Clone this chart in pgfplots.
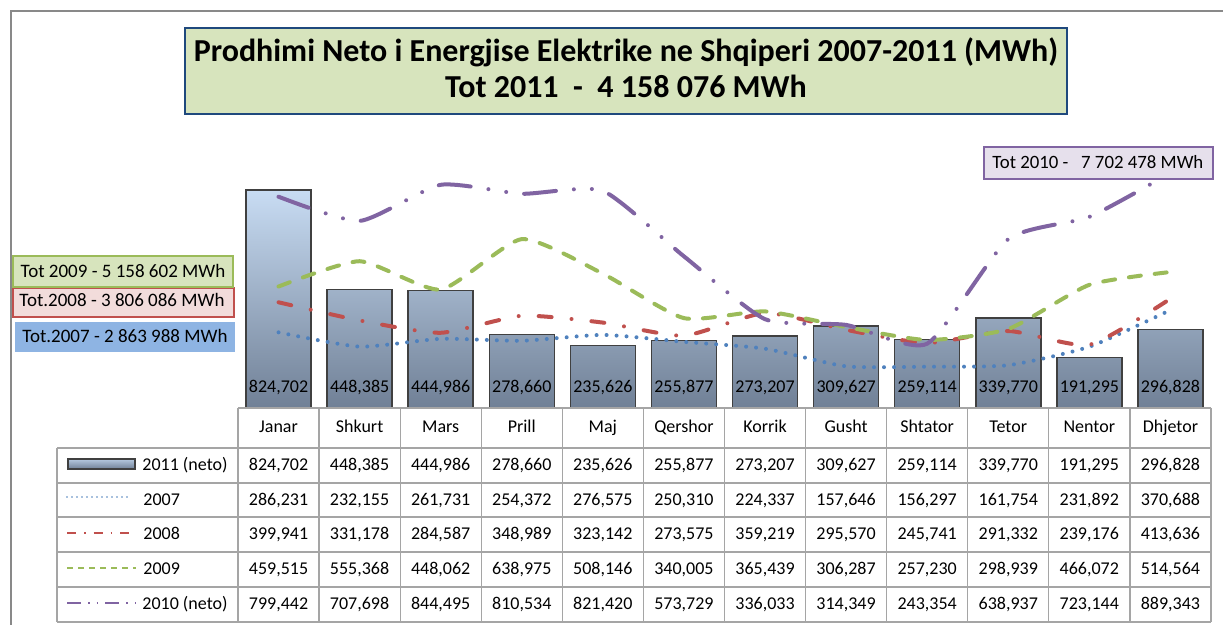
\documentclass[border=0pt]{standalone}
\usepackage{pgfplots}
\pgfplotsset{compat=1.18}
\usepackage{fontspec}
\setmainfont{Carlito}
\definecolor{c07}{HTML}{4F81BD}
\definecolor{c08}{HTML}{C0504D}
\definecolor{c09}{HTML}{9BBB59}
\definecolor{c10}{HTML}{8064A2}
\definecolor{bartop}{RGB}{200,220,243}
\definecolor{barbot}{RGB}{112,128,150}
\definecolor{gridc}{RGB}{165,165,165}
\definecolor{framec}{RGB}{137,137,137}
\definecolor{titlefill}{RGB}{215,228,189}
\definecolor{titledraw}{HTML}{1F497D}
\definecolor{f09}{RGB}{215,228,189}
\definecolor{f08}{RGB}{242,220,219}
\definecolor{f07}{RGB}{142,180,227}
\definecolor{f10}{RGB}{230,224,236}
\newcommand{\tfont}{\fontsize{9}{10}\selectfont}
\begin{document}
\begin{tikzpicture}
\begin{axis}[at={(119pt,-204pt)}, anchor=south west, scale only axis,
  width=486.5pt, height=132.15pt, xmin=-0.5, xmax=11.5, ymin=0, ymax=1000000,
  hide axis, clip=false]
\addplot[ybar, bar width=32.5pt, draw=black!75, line width=0.75pt, top color=bartop, bottom color=barbot]
 coordinates {(0,824702) (1,448385) (2,444986) (3,278660) (4,235626) (5,255877) (6,273207) (7,309627) (8,259114) (9,339770) (10,191295) (11,296828)};
\addplot[c07, smooth, tension=0.35, line width=2pt, line cap=round, dash pattern=on 0pt off 5pt]
 coordinates {(0,286231) (1,232155) (2,261731) (3,254372) (4,276575) (5,250310) (6,224337) (7,157646) (8,156297) (9,161754) (10,231892) (11,370688)};
\addplot[c08, smooth, tension=0.35, line width=2pt, line cap=round, dash pattern=on 6.5pt off 10pt on 0pt off 10pt]
 coordinates {(0,399941) (1,331178) (2,284587) (3,348989) (4,323142) (5,273575) (6,359219) (7,295570) (8,245741) (9,291332) (10,239176) (11,413636)};
\addplot[c09, smooth, tension=0.35, line width=2pt, line cap=round, dash pattern=on 6pt off 7pt]
 coordinates {(0,459515) (1,555368) (2,448062) (3,638975) (4,508146) (5,340005) (6,365439) (7,306287) (8,257230) (9,298939) (10,466072) (11,514564)};
\addplot[c10, smooth, tension=0.35, line width=2pt, line cap=round, dash pattern=on 16pt off 9pt on 0pt off 9pt on 0pt off 9pt]
 coordinates {(0,799442) (1,707698) (2,844495) (3,810534) (4,821420) (5,573729) (6,336033) (7,314349) (8,243354) (9,638937) (10,723144) (11,889343)};
\addplot[draw=none, nodes near coords, point meta=explicit symbolic,
  nodes near coords style={anchor=base, yshift=7.5pt, font=\tfont, text=black}]
 table[meta=lab] {
x y lab
0 0 824,702
1 0 448,385
2 0 444,986
3 0 278,660
4 0 235,626
5 0 255,877
6 0 273,207
7 0 309,627
8 0 259,114
9 0 339,770
10 0 191,295
11 0 296,828
};
\end{axis}
\begin{scope}[x=0.5pt,y=-0.5pt]
% outer frame
\draw[framec, line width=1pt] (11,640) -- (11,11) -- (1240,11);
% title
\draw[titledraw, line width=1.1pt, fill=titlefill] (185,28) rectangle (1067,114);
\node[anchor=base, inner sep=0pt, font=\fontsize{16}{18}\selectfont\bfseries] at (626,62) {Prodhimi Neto i Energjise Elektrike ne Shqiperi 2007-2011 (MWh)};
\node[anchor=base, inner sep=0pt, font=\fontsize{16}{18}\selectfont\bfseries] at (626,98) {Tot 2011\ \ -\ \ 4 158 076 MWh};
% total boxes
\draw[c10, line width=1pt, fill=f10] (984,147) rectangle (1213,179);
\node[anchor=base west, inner sep=0pt, font=\fontsize{9.4}{10}\selectfont] at (992,169) {Tot 2010 -\ \ \ 7 702 478 MWh};
\draw[c08, line width=1pt, fill=f08] (13,288) rectangle (234,317);
\draw[c09, line width=1pt, fill=f09] (13,256) rectangle (233,287);
\fill[f07] (15,322) rectangle (235,352);
\node[anchor=base, inner sep=0pt, font=\fontsize{9.5}{10}\selectfont] at (123,278) {Tot 2009 - 5 158 602 MWh};
\node[anchor=base, inner sep=0pt, font=\fontsize{9.5}{10}\selectfont] at (122,307) {Tot.2008 - 3 806 086 MWh};
\node[anchor=base, inner sep=0pt, font=\fontsize{9.5}{10}\selectfont] at (125,343) {Tot.2007 - 2 863 988 MWh};
% data table grid
\begin{scope}[gridc, line width=0.6pt]
\draw (238,408) -- (1211,408);
\foreach \yy in {448,483,517,552,587,622} \draw (57,\yy) -- (1211,\yy);
\draw (57,448) -- (57,622);
\foreach \k in {0,...,12} \draw ({238+81.083*\k},408) -- ({238+81.083*\k},622);
\end{scope}
% header
\foreach \m [count=\i from 0] in {Janar,Shkurt,Mars,Prill,Maj,Qershor,Korrik,Gusht,Shtator,Tetor,Nentor,Dhjetor}
  \node[anchor=base, inner sep=0pt, font=\tfont] at ({278.5+81.083*\i},433) {\m};
% rows
\foreach \v [count=\i from 0] in {824{,}702,448{,}385,444{,}986,278{,}660,235{,}626,255{,}877,273{,}207,309{,}627,259{,}114,339{,}770,191{,}295,296{,}828}
  \node[anchor=base, inner sep=0pt, font=\tfont] at ({278.5+81.083*\i},471) {\v};
\foreach \v [count=\i from 0] in {286{,}231,232{,}155,261{,}731,254{,}372,276{,}575,250{,}310,224{,}337,157{,}646,156{,}297,161{,}754,231{,}892,370{,}688}
  \node[anchor=base, inner sep=0pt, font=\tfont] at ({278.5+81.083*\i},506) {\v};
\foreach \v [count=\i from 0] in {399{,}941,331{,}178,284{,}587,348{,}989,323{,}142,273{,}575,359{,}219,295{,}570,245{,}741,291{,}332,239{,}176,413{,}636}
  \node[anchor=base, inner sep=0pt, font=\tfont] at ({278.5+81.083*\i},540) {\v};
\foreach \v [count=\i from 0] in {459{,}515,555{,}368,448{,}062,638{,}975,508{,}146,340{,}005,365{,}439,306{,}287,257{,}230,298{,}939,466{,}072,514{,}564}
  \node[anchor=base, inner sep=0pt, font=\tfont] at ({278.5+81.083*\i},575) {\v};
\foreach \v [count=\i from 0] in {799{,}442,707{,}698,844{,}495,810{,}534,821{,}420,573{,}729,336{,}033,314{,}349,243{,}354,638{,}937,723{,}144,889{,}343}
  \node[anchor=base, inner sep=0pt, font=\tfont] at ({278.5+81.083*\i},610) {\v};
% legend keys
\draw[black!75, line width=0.6pt, top color=bartop!80!barbot, bottom color=barbot] (68,459) rectangle (135,469);
\draw[c07, line width=0.9pt, line cap=round, dash pattern=on 0pt off 2.5pt] (67,497) -- (131,497);
\draw[c08, line width=1.2pt, dash pattern=on 4.5pt off 4pt on 0.8pt off 4pt] (67,533) -- (134,533);
\draw[c09, line width=1.2pt, dash pattern=on 3.2pt off 2.3pt] (67,568) -- (136,568);
\draw[c10, line width=1.2pt, dash pattern=on 7pt off 3.5pt on 0.8pt off 3.5pt on 0.8pt off 3.5pt] (67,603) -- (137,603);
\node[anchor=base west, inner sep=0pt, font=\tfont] at (142,471) {2011 (neto)};
\node[anchor=base west, inner sep=0pt, font=\tfont] at (143,506) {2007};
\node[anchor=base west, inner sep=0pt, font=\tfont] at (143,540) {2008};
\node[anchor=base west, inner sep=0pt, font=\tfont] at (143,575) {2009};
\node[anchor=base west, inner sep=0pt, font=\tfont] at (142,610) {2010 (neto)};
\end{scope}
\pgfresetboundingbox
\path[use as bounding box] (0,0) rectangle (611.5pt,-312.5pt);
\end{tikzpicture}
\end{document}
